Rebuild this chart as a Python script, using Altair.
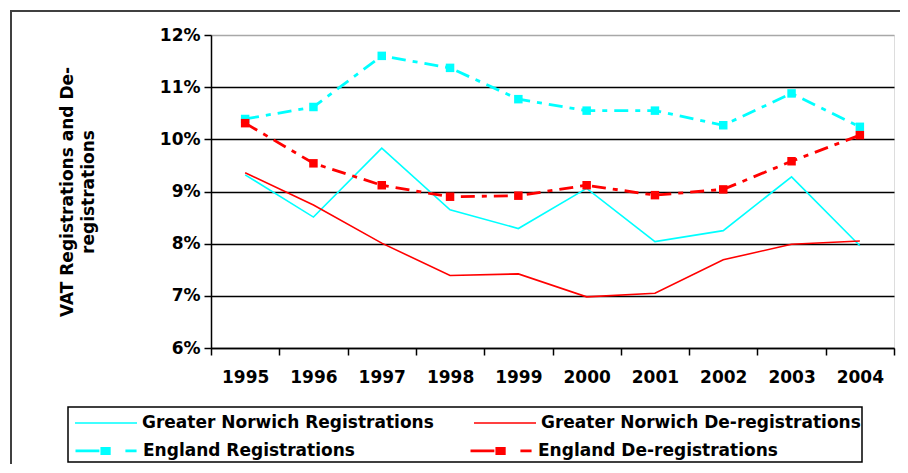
import altair as alt
import pandas as pd

years = ["1995", "1996", "1997", "1998", "1999", "2000", "2001", "2002", "2003", "2004"]
gn_reg = [9.32, 8.51, 9.83, 8.65, 8.29, 9.06, 8.04, 8.25, 9.28, 7.96]
gn_dereg = [9.36, 8.74, 8.01, 7.39, 7.42, 6.98, 7.05, 7.69, 7.99, 8.05]
eng_reg = [10.39, 10.62, 11.60, 11.37, 10.77, 10.55, 10.55, 10.27, 10.88, 10.24]
eng_dereg = [10.31, 9.54, 9.12, 8.90, 8.92, 9.12, 8.93, 9.04, 9.58, 10.08]

gn_names = ["Greater Norwich Registrations", "Greater Norwich De-registrations"]
eng_names = ["England Registrations", "England De-registrations"]
reg_color = "#00FFFF"
dereg_color = "#FF0000"

rows = []
for name, vals in zip(gn_names + eng_names, [gn_reg, gn_dereg, eng_reg, eng_dereg]):
    for y, v in zip(years, vals):
        rows.append({"year": y, "series": name, "value": v})
df = pd.DataFrame(rows)

FONT = "DejaVu Sans"

x_enc = alt.X(
    "year:O",
    bandPosition=0.5,
    scale=alt.Scale(type="band", paddingInner=0, paddingOuter=0),
    axis=alt.Axis(
        title=None,
        labelAngle=0,
        tickBand="extent",
        labelFont=FONT,
        labelFontWeight="bold",
        labelFontSize=17,
        labelColor="black",
        labelPadding=14,
        tickSize=7,
        tickColor="black",
        domainColor="black",
        tickWidth=1.5,
        domainWidth=1.5,
        grid=False,
    ),
)
y_enc = alt.Y(
    "value:Q",
    scale=alt.Scale(domain=[6, 12], nice=False, zero=False),
    axis=alt.Axis(
        title=["VAT Registrations and De-", "registrations"],
        titleFont=FONT,
        titleFontSize=17,
        titleFontWeight="bold",
        titleColor="black",
        titlePadding=62,
        titleLineHeight=21,
        values=[6, 7, 8, 9, 10, 11, 12],
        labelExpr="datum.value + '%'",
        labelFont=FONT,
        labelFontWeight="bold",
        labelFontSize=17,
        labelColor="black",
        labelPadding=4,
        tickSize=7,
        tickColor="black",
        tickWidth=1.5,
        domainColor="black",
        domainWidth=1.5,
        grid=True,
        gridColor={"condition": {"test": "datum.value >= 12", "value": "#A8A8A8"}, "value": "black"},
        gridWidth=1.5,
    ),
)

common_legend = dict(
    title=None,
    orient="none",
    direction="horizontal",
    columns=2,
    padding=0,
    labelFont=FONT,
    labelFontSize=17,
    labelFontWeight="bold",
    labelColor="black",
    labelLimit=400,
    labelOffset=4,
    symbolSize=3844,
)

legend_gn = alt.Legend(
    legendX=-137, legendY=356, columnPadding=36,
    symbolType="stroke", symbolStrokeWidth=1.6, **common_legend
)
eng_symbol = (
    "M-1,0H-0.23"
    "M-0.15,-0.13V0.13M-0.09,-0.13V0.13M-0.03,-0.13V0.13M0.03,-0.13V0.13M0.09,-0.13V0.13"
    "M0.61,0H0.97"
)
legend_eng = alt.Legend(
    legendX=-137, legendY=383, columnPadding=109,
    symbolType=eng_symbol, symbolStrokeWidth=2.8, **common_legend
)

base = alt.Chart(df)

gn_lines = base.transform_filter(
    alt.FieldOneOfPredicate(field="series", oneOf=gn_names)
).mark_line(strokeWidth=1.6).encode(
    x=x_enc,
    y=y_enc,
    color=alt.Color("series:N", scale=alt.Scale(domain=gn_names, range=[reg_color, dereg_color]),
                    legend=legend_gn),
)

eng_lines = base.transform_filter(
    alt.FieldOneOfPredicate(field="series", oneOf=eng_names)
).mark_line(strokeWidth=2.8).encode(
    x=x_enc,
    y=y_enc,
    stroke=alt.Stroke("series:N", scale=alt.Scale(domain=eng_names, range=[reg_color, dereg_color]),
                      legend=legend_eng),
    strokeDash=alt.StrokeDash("series:N",
                              scale=alt.Scale(domain=eng_names, range=[[14, 7, 5, 7], [14, 7, 5, 7]]),
                              legend=None),
)

reg_points = base.transform_filter(
    alt.datum.series == eng_names[0]
).mark_point(shape="square", filled=True, size=72, color=reg_color, opacity=1).encode(x=x_enc, y=y_enc)

dereg_points = base.transform_filter(
    alt.datum.series == eng_names[1]
).mark_point(shape="square", filled=True, size=72, color=dereg_color, opacity=1).encode(x=x_enc, y=y_enc)

deco = pd.DataFrame({"a": [0]})
frame = alt.Chart(deco).mark_rect(fill=None, stroke="#404040", strokeWidth=2).encode(
    x=alt.value(-200), x2=alt.value(720), y=alt.value(-24), y2=alt.value(460)
)
legend_box = alt.Chart(deco).mark_rect(fill=None, stroke="black", strokeWidth=1.5).encode(
    x=alt.value(-143), x2=alt.value(651), y=alt.value(372), y2=alt.value(427)
)

chart = alt.layer(frame, legend_box, gn_lines, eng_lines, reg_points, dereg_points).properties(
    width=683,
    height=313,
    autosize=alt.AutoSizeParams(type="none"),
    padding={"left": 203, "top": 27, "right": 6, "bottom": 116},
).resolve_scale(
    color="independent", stroke="independent"
).configure_view(
    fill="#C0C0C0", stroke="#8C8C8C", strokeWidth=2
).configure(background="white")

chart.save("out.html", embed_options={"renderer": "svg", "actions": False})
